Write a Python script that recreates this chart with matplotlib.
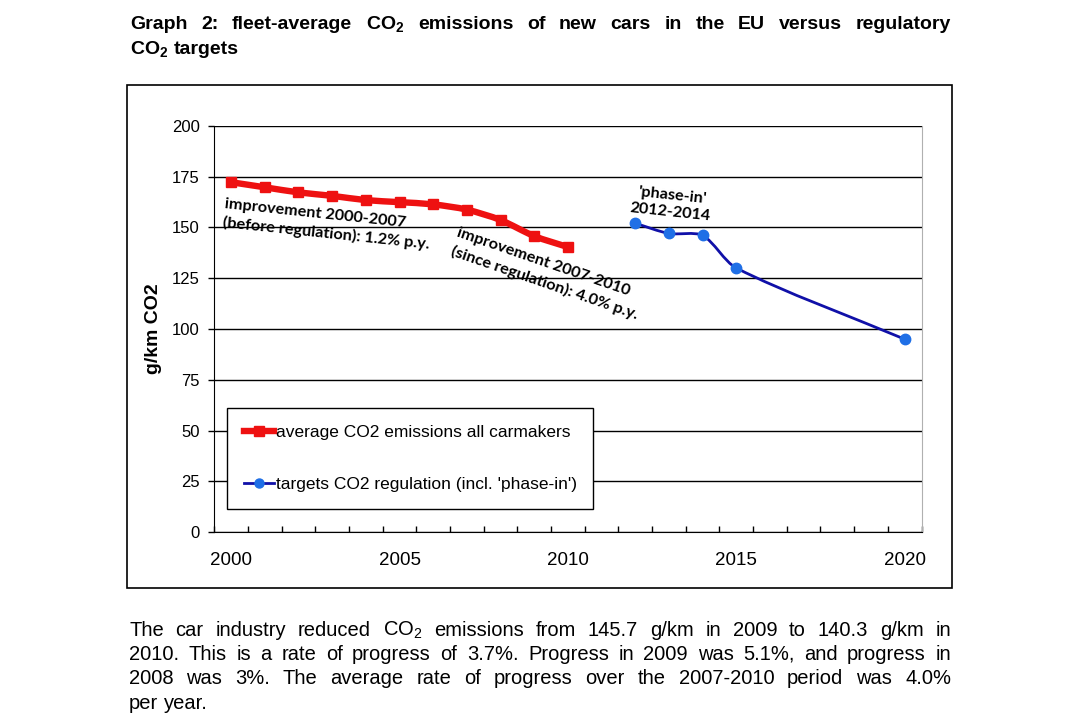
import matplotlib
matplotlib.use("Agg")
import matplotlib.pyplot as plt
from matplotlib.path import Path
from matplotlib.patches import PathPatch, Rectangle
from matplotlib.lines import Line2D
import numpy as np

# ---------------- data ----------------
years_avg = [2000, 2001, 2002, 2003, 2004, 2005, 2006, 2007, 2008, 2009, 2010]
co2_avg = [172.2, 169.7, 167.2, 165.5, 163.4, 162.4, 161.3, 158.7, 153.6, 145.7, 140.3]
years_target = [2012, 2013, 2014, 2015, 2020]
co2_target = [152, 147, 146, 130, 95]
x_label_years = [2000, 2005, 2010, 2015, 2020]
y_tick_values = [0, 25, 50, 75, 100, 125, 150, 175, 200]
label_avg = "average CO2 emissions all carmakers"
label_target = "targets CO2 regulation (incl. 'phase-in')"

title_lines = [
    ["Graph", "2:", "fleet-average", r"CO$_\mathbf{2}$", "emissions", "of", "new", "cars",
     "in", "the", "EU", "versus", "regulatory"],
    [r"CO$_\mathbf{2}$", "targets"],
]
caption_lines = [
    "The car industry reduced CO$_2$ emissions from 145.7 g/km in 2009 to 140.3 g/km in".split(" "),
    "2010. This is a rate of progress of 3.7%. Progress in 2009 was 5.1%, and progress in".split(" "),
    "2008 was 3%. The average rate of progress over the 2007-2010 period was 4.0%".split(" "),
    "per year.".split(" "),
]

plt.rcParams["font.family"] = ["Liberation Sans", "DejaVu Sans"]
plt.rcParams["mathtext.fontset"] = "custom"
plt.rcParams["mathtext.rm"] = "Liberation Sans"
plt.rcParams["mathtext.bf"] = "Liberation Sans:bold"
plt.rcParams["mathtext.it"] = "Liberation Sans:italic"

W, H = 1078, 719
fig = plt.figure(figsize=(W / 100, H / 100), dpi=100)


def fx(px):
    return px / W


def fy(py):
    return 1 - py / H


RED = "#ee1111"
BLUE_LINE = "#1010a8"
BLUE_MARK = "#1f6fe6"

# outer chart frame
fig.patches.append(Rectangle((fx(127.3), fy(588.3)), (952.3 - 127.3) / W, (588.3 - 85) / H,
                             transform=fig.transFigure, fill=False, edgecolor="black", lw=1.2))

ax = fig.add_axes([fx(214.3), fy(532.3), (921.5 - 214.3) / W, (532.3 - 125.7) / H])
ax.set_xlim(1999.5, 2020.5)
ax.set_ylim(0, 200)


def smooth_path(xs, ys):
    """Excel-like smoothed line: Bezier segments with tangents scaled by segment length (screen space)."""
    pts = ax.transData.transform(np.column_stack([xs, ys]).astype(float))
    n = len(pts)
    tangents = []
    for i in range(n):
        a = pts[max(i - 1, 0)]
        b = pts[min(i + 1, n - 1)]
        la = np.linalg.norm(pts[i] - a)
        lb = np.linalg.norm(b - pts[i])
        tangents.append((b - a) / max(la + lb, 1e-9))
    verts = [pts[0]]
    codes = [Path.MOVETO]
    for i in range(n - 1):
        d = np.linalg.norm(pts[i + 1] - pts[i])
        c1 = pts[i] + tangents[i] * d / 3.5
        c2 = pts[i + 1] - tangents[i + 1] * d / 3.5
        verts += [c1, c2, pts[i + 1]]
        codes += [Path.CURVE4] * 3
    inv = ax.transData.inverted()
    return Path(inv.transform(np.array(verts)), codes)


ax.add_patch(PathPatch(smooth_path(years_avg, co2_avg), fill=False, edgecolor=RED, lw=4.6,
                       capstyle="butt", joinstyle="round", zorder=3))
ax.plot(years_avg, co2_avg, linestyle="none", marker="s", markersize=7.5, color=RED, zorder=4)
ax.add_patch(PathPatch(smooth_path(years_target, co2_target), fill=False, edgecolor=BLUE_LINE, lw=2.0,
                       capstyle="butt", joinstyle="round", zorder=3))
ax.plot(years_target, co2_target, linestyle="none", marker="o", markersize=7.5, color=BLUE_MARK, zorder=4)

# axes styling
ax.set_xticks(x_label_years)
ax.set_xticklabels([str(v) for v in x_label_years], fontsize=13.5)
ax.set_xticks(np.arange(ax.get_xlim()[0], ax.get_xlim()[1] + 0.01, 1.0), minor=True)
ax.tick_params(axis="x", which="major", length=0, pad=14)
ax.tick_params(axis="x", which="minor", direction="in", length=4.5, width=1, color="black")
ax.set_yticks(y_tick_values)
ax.set_yticklabels([str(v) for v in y_tick_values], fontsize=12)
ax.tick_params(axis="y", direction="out", length=4.5, width=1, pad=6)
ax.grid(axis="y", color="black", lw=1)
ax.set_axisbelow(True)
ax.spines["top"].set_visible(False)
ax.spines["right"].set_color("#b0b0b0")
ax.spines["left"].set_color("black")
ax.spines["bottom"].set_color("black")

fig.text(fx(153.3), fy(329), "g/km CO2", rotation=90, ha="center", va="center",
         fontsize=14, fontweight="bold")

# annotations
ann_font = ["Lato", "DejaVu Sans"]
ann_size = 11.7
fig.text(fx(225), fy(197), "improvement 2000-2007\n(before regulation): 1.2% p.y.",
         rotation=-6, rotation_mode="anchor", ha="left", va="top", family=ann_font,
         fontweight="bold", fontsize=ann_size, linespacing=1.35)
fig.text(fx(460), fy(226), "improvement 2007-2010\n(since regulation): 4.0% p.y.",
         rotation=-19, rotation_mode="anchor", ha="left", va="top", family=ann_font,
         fontweight="bold", fontsize=ann_size, linespacing=1.4)
fig.text(fx(671), fy(204), "'phase-in'\n2012-2014",
         rotation=-6, rotation_mode="anchor", ha="center", va="center", multialignment="center",
         family=ann_font, fontweight="bold", fontsize=ann_size, linespacing=1.25)

# legend
handles = [
    Line2D([], [], color=RED, lw=4.6, marker="s", markersize=6.5),
    Line2D([], [], color=BLUE_LINE, lw=2.0, marker="o", markersize=6.5, markerfacecolor=BLUE_MARK,
           markeredgecolor=BLUE_MARK),
]
leg = ax.legend(handles, [label_avg, label_target], loc="upper left",
                bbox_to_anchor=(fx(227.3), fy(408.3)), bbox_transform=fig.transFigure,
                borderaxespad=0, fontsize=12.5, handlelength=1.75, handletextpad=0.1,
                labelspacing=2.15, borderpad=0.95, fancybox=False, framealpha=1,
                edgecolor="black")
leg.get_frame().set_linewidth(1.0)

# justified text blocks
renderer = fig.canvas.get_renderer()


def place_line(words, y_px, left_px, right_px, justify, **kw):
    texts = [fig.text(0, fy(y_px), w, ha="left", va="baseline", **kw) for w in words]
    widths = [t.get_window_extent(renderer).width for t in texts]
    size_px = kw.get("fontsize", 12) * 100 / 72
    if justify and len(words) > 1:
        gap = (right_px - left_px - sum(widths)) / (len(words) - 1)
    else:
        gap = 0.278 * size_px
    x = left_px
    for t, w in zip(texts, widths):
        t.set_x(fx(x))
        x += w + gap


title_y = [29, 54]
for i, words in enumerate(title_lines):
    place_line(words, title_y[i], 130, 951, i < len(title_lines) - 1, fontsize=14, fontweight="bold")

caption_y = [635.5, 660, 684.5, 709]
for i, words in enumerate(caption_lines):
    place_line(words, caption_y[i], 129, 951, i < len(caption_lines) - 1, fontsize=14.5)

fig.savefig("out.png", dpi=100)
